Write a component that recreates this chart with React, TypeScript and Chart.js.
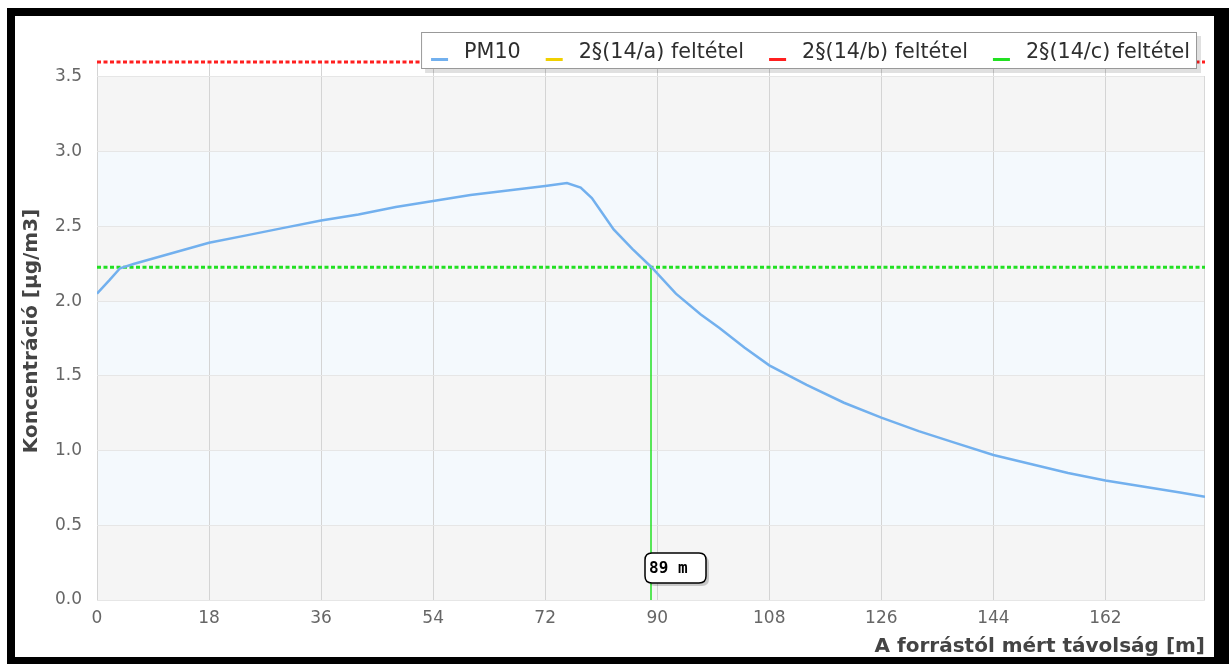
import React, { useEffect, useRef } from "react";
import { Chart, registerables } from "chart.js";

Chart.register(...registerables);

// ---- data ----
const distances = [0, 2, 3.7, 6, 12, 18, 24, 30, 36, 42, 48, 54, 60, 66, 72, 75.5, 77.7, 79.5, 81, 83, 86, 89, 93, 97, 100, 104, 108, 114, 120, 126, 132, 138, 144, 150, 156, 162, 168, 174, 178];
const pm10Values = [2.05, 2.14, 2.22, 2.25, 2.32, 2.39, 2.44, 2.49, 2.54, 2.58, 2.63, 2.67, 2.71, 2.74, 2.77, 2.79, 2.76, 2.69, 2.6, 2.48, 2.35, 2.23, 2.05, 1.91, 1.82, 1.69, 1.57, 1.44, 1.32, 1.22, 1.13, 1.05, 0.97, 0.91, 0.85, 0.8, 0.76, 0.72, 0.69];
const xTickValues = [0, 18, 36, 54, 72, 90, 108, 126, 144, 162];
const yTickValues = [0, 0.5, 1, 1.5, 2, 2.5, 3, 3.5];
const xMax = 178;
const yMax = 3.6;
const limitAValues: number[] = []; // 2§(14/a) – outside visible range
const limitBValue = 3.6; // 2§(14/b)
const limitCValue = 2.227; // 2§(14/c)
const crossingDistance = 89;
const legendLabels = ["PM10", "2§(14/a) feltétel", "2§(14/b) feltétel", "2§(14/c) feltétel"];
const seriesColors = ["#72b0ee", "#f0d000", "#ff1f1f", "#22e022"];
const xTitle = "A forrástól mért távolság [m]";
const yTitle = "Koncentráció [µg/m3]";

const FONT = "'DejaVu Sans', sans-serif";

export default function App() {
  const canvasRef = useRef<HTMLCanvasElement | null>(null);

  useEffect(() => {
    const canvas = canvasRef.current;
    if (!canvas) return;

    const bandPlugin = {
      id: "bands",
      beforeDraw(chart: any) {
        const { ctx, chartArea, scales } = chart;
        const y = scales.y;
        ctx.save();
        for (let i = 0; i < yTickValues.length - 1; i++) {
          const top = y.getPixelForValue(yTickValues[i + 1]);
          const bot = y.getPixelForValue(yTickValues[i]);
          ctx.fillStyle = i % 2 === 0 ? "#f5f5f5" : "#f4f9fd";
          ctx.fillRect(chartArea.left, top, chartArea.right - chartArea.left, bot - top);
        }
        ctx.restore();
      },
      beforeDatasetsDraw(chart: any) {
        const { ctx, chartArea } = chart;
        ctx.save();
        ctx.strokeStyle = "#d8d8d8";
        ctx.lineWidth = 1;
        ctx.beginPath();
        ctx.moveTo(chartArea.right - 0.5, chartArea.top + 14);
        ctx.lineTo(chartArea.right - 0.5, chartArea.bottom);
        ctx.stroke();
        ctx.restore();
      },
    };

    const overlayPlugin = {
      id: "overlay",
      afterDraw(chart: any) {
        const { ctx, chartArea, scales } = chart;
        ctx.save();
        // crossing label
        const px = scales.x.getPixelForValue(crossingDistance);
        const bx = px - 6;
        const by = chartArea.bottom - 47;
        const bw = 61;
        const bh = 30;
        const rr = (x: number, y: number, w: number, h: number, r: number) => {
          ctx.beginPath();
          ctx.moveTo(x + r, y);
          ctx.lineTo(x + w - r, y);
          ctx.quadraticCurveTo(x + w, y, x + w, y + r);
          ctx.lineTo(x + w, y + h - r);
          ctx.quadraticCurveTo(x + w, y + h, x + w - r, y + h);
          ctx.lineTo(x + r, y + h);
          ctx.quadraticCurveTo(x, y + h, x, y + h - r);
          ctx.lineTo(x, y + r);
          ctx.quadraticCurveTo(x, y, x + r, y);
          ctx.closePath();
        };
        ctx.fillStyle = "rgba(0,0,0,0.18)";
        rr(bx + 3, by + 3, bw, bh, 7);
        ctx.fill();
        ctx.fillStyle = "#ffffff";
        rr(bx, by, bw, bh, 7);
        ctx.fill();
        ctx.strokeStyle = "#000";
        ctx.lineWidth = 1.5;
        ctx.stroke();
        ctx.fillStyle = "#000";
        ctx.font = "bold 16px 'DejaVu Sans Mono', monospace";
        ctx.textBaseline = "middle";
        ctx.textAlign = "left";
        ctx.fillText(`${crossingDistance} m`, bx + 4, by + bh / 2 + 1);

        // legend
        ctx.font = `20.7px ${FONT}`;
        const swatch = 17;
        const swatchToText = 33;
        const gap = 25;
        const widths = legendLabels.map((l) => ctx.measureText(l).width);
        let total = 10 + 7;
        widths.forEach((w, i) => {
          total += swatchToText + w + (i < widths.length - 1 ? gap : 0);
        });
        const lRight = 1197;
        const lLeft = lRight - total;
        const lTop = 32;
        const lH = 37;
        ctx.fillStyle = "rgba(0,0,0,0.12)";
        ctx.fillRect(lLeft + 4, lTop + 4, total, lH);
        ctx.fillStyle = "#fff";
        ctx.fillRect(lLeft, lTop, total, lH);
        ctx.strokeStyle = "#999";
        ctx.lineWidth = 1;
        ctx.strokeRect(lLeft + 0.5, lTop + 0.5, total - 1, lH - 1);
        let cx = lLeft + 10;
        legendLabels.forEach((l, i) => {
          ctx.fillStyle = seriesColors[i];
          ctx.fillRect(cx, lTop + 26, swatch, 3);
          ctx.fillStyle = "#2e2e2e";
          ctx.textBaseline = "middle";
          ctx.fillText(l, cx + swatchToText, lTop + 21);
          cx += swatchToText + widths[i] + gap;
        });
        ctx.restore();
      },
    };

    const chart = new Chart(canvas, {
      type: "line",
      data: {
        datasets: [
          {
            label: legendLabels[0],
            data: distances.map((d, i) => ({ x: d, y: pm10Values[i] })),
            borderColor: seriesColors[0],
            borderWidth: 2.5,
            pointRadius: 0,
            tension: 0,
          },
          {
            label: legendLabels[1],
            data: limitAValues.map((v) => ({ x: 0, y: v })),
            borderColor: seriesColors[1],
            borderWidth: 3,
            pointRadius: 0,
          },
          {
            label: legendLabels[2],
            data: [
              { x: 0, y: limitBValue },
              { x: xMax, y: limitBValue },
            ],
            borderColor: seriesColors[2],
            borderWidth: 3,
            borderDash: [4, 2.5],
            pointRadius: 0,
            clip: false,
          },
          {
            label: legendLabels[3],
            data: [
              { x: 0, y: limitCValue },
              { x: xMax, y: limitCValue },
            ],
            borderColor: seriesColors[3],
            borderWidth: 3,
            borderDash: [4, 2.5],
            pointRadius: 0,
          },
          {
            label: "crossing",
            data: [
              { x: crossingDistance, y: 0 },
              { x: crossingDistance, y: limitCValue },
            ],
            borderColor: seriesColors[3],
            borderWidth: 1.5,
            pointRadius: 0,
          },
        ],
      },
      options: {
        animation: false,
        responsive: false,
        maintainAspectRatio: false,
        events: [],
        layout: { padding: { top: 62, right: 24, bottom: 0, left: 0 } },
        plugins: {
          legend: { display: false },
          tooltip: { enabled: false },
        },
        scales: {
          x: {
            type: "linear",
            min: 0,
            max: xMax,
            afterBuildTicks: (scale: any) => {
              scale.ticks = xTickValues.map((v) => ({ value: v }));
            },
            afterFit: (scale: any) => {
              scale.height = 64;
            },
            ticks: {
              color: "#666",
              font: { family: FONT, size: 17 },
              padding: 8,
              maxRotation: 0,
              autoSkip: false,
              callback: (v: any) => String(v),
            },
            grid: { color: "#d4d4d4", drawTicks: false, lineWidth: 1 },
            border: { display: false },
            title: {
              display: true,
              text: xTitle,
              align: "end",
              color: "#444",
              font: { family: FONT, size: 20, weight: "bold" },
              padding: { top: 0, bottom: 5 },
            },
          },
          y: {
            type: "linear",
            min: 0,
            max: yMax,
            afterBuildTicks: (scale: any) => {
              scale.ticks = yTickValues.map((v) => ({ value: v }));
            },
            afterFit: (scale: any) => {
              scale.width = 97;
            },
            ticks: {
              color: "#666",
              font: { family: FONT, size: 17 },
              padding: 15,
              callback: (v: any) => Number(v).toFixed(1),
            },
            grid: { color: "#e6e6e6", drawTicks: false, lineWidth: 1 },
            border: { display: false },
            title: {
              display: true,
              text: yTitle,
              color: "#444",
              font: { family: FONT, size: 20, weight: "bold" },
              padding: { top: 20, bottom: 0 },
            },
          },
        },
      } as any,
      plugins: [bandPlugin, overlayPlugin],
    });

    return () => chart.destroy();
  }, []);

  return (
    <div style={{ position: "fixed", left: 0, top: 0, width: 1229, height: 664, background: "#fff" }}>
      <canvas ref={canvasRef} width={1229} height={664} style={{ position: "absolute", left: 0, top: 0, width: 1229, height: 664 }} />
      <div
        style={{
          position: "absolute",
          left: 7,
          top: 8,
          width: 1222,
          height: 656,
          boxSizing: "border-box",
          borderStyle: "solid",
          borderColor: "#000",
          borderWidth: "8px 15px 7px 8px",
          pointerEvents: "none",
        }}
      />
    </div>
  );
}
